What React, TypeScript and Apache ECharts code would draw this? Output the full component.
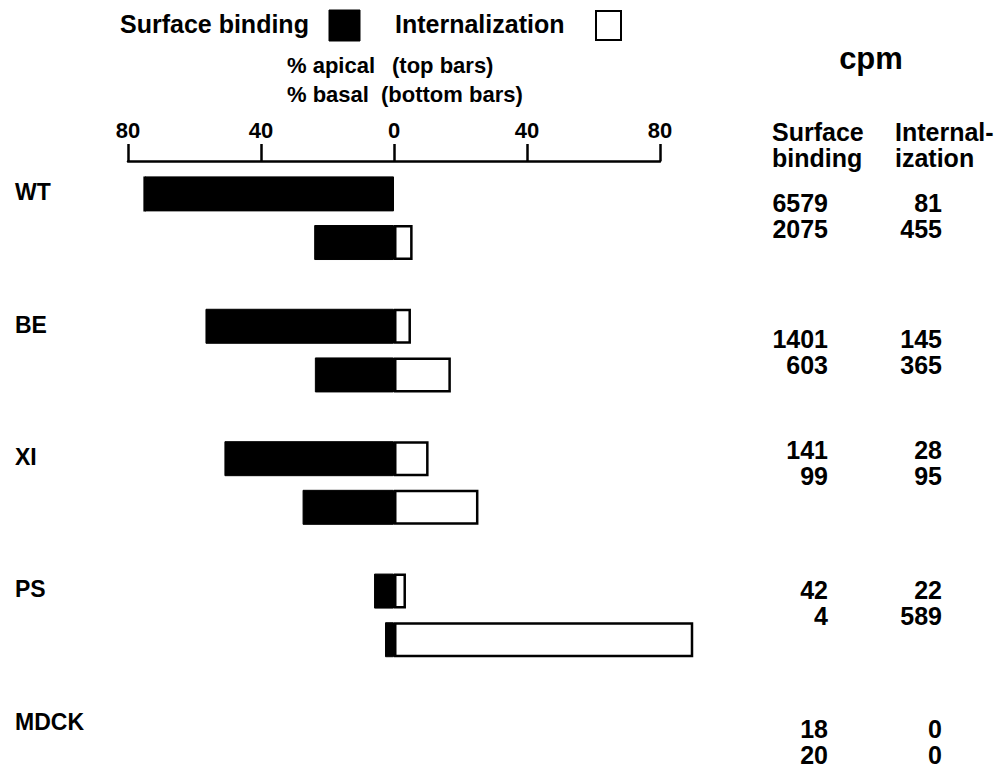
import React, { useEffect, useRef } from 'react';
import * as echarts from 'echarts';

// ---------- data ----------
const categories = ['WT', 'BE', 'XI', 'PS', 'MDCK'];
// % values (surface binding drawn leftwards, internalization rightwards)
const apicalSurfacePct: (number | null)[] = [75, 56.7, 51, 6.0, null];
const apicalInternalPct: (number | null)[] = [0, 5.1, 10.4, 3.6, null];
const basalSurfacePct: (number | null)[] = [24, 23.8, 27.5, 2.7, null];
const basalInternalPct: (number | null)[] = [5.6, 17.1, 25.4, 90, null];
// cpm table
const cpmSurfaceApical = [6579, 1401, 141, 42, 18];
const cpmSurfaceBasal = [2075, 603, 99, 4, 20];
const cpmInternalApical = [81, 145, 28, 22, 0];
const cpmInternalBasal = [455, 365, 95, 589, 0];
// texts
const legendLabels = ['Surface binding', 'Internalization'];
const subtitleLeft = ['% apical', '% basal'];
const subtitleRight = ['(top bars)', '(bottom bars)'];
const cpmTitle = 'cpm';
const cpmHeaders = ['Surface\nbinding', 'Internal-\nization'];

// ---------- layout ----------
const FONT = '"Liberation Sans", Arial, Helvetica, sans-serif';
const CPM_ROW_CENTER_Y = [215.5, 352, 463, 603, 742];

const neg = (v: number | null) => (v == null ? null : -v);

function txt(x: number, y: number, text: string, size: number, align = 'left', extra: any = {}) {
  return {
    type: 'text',
    x,
    y,
    style: {
      text,
      fill: '#000',
      fontSize: size,
      fontWeight: 'bold',
      fontFamily: FONT,
      align,
      verticalAlign: 'middle',
      ...extra,
    },
  };
}

export default function App() {
  const ref = useRef<HTMLDivElement>(null);
  useEffect(() => {
    if (!ref.current) return;
    const chart = echarts.init(ref.current, null, { renderer: 'svg' });

    const graphic: any[] = [
      txt(120, 24, legendLabels[0], 25),
      {
        type: 'rect',
        shape: { x: 329, y: 10, width: 31, height: 31 },
        style: { fill: '#000', stroke: '#000', lineWidth: 1 },
      },
      txt(395, 24, legendLabels[1], 25),
      {
        type: 'rect',
        shape: { x: 596, y: 11, width: 25, height: 29 },
        style: { fill: '#fff', stroke: '#000', lineWidth: 2 },
      },
      txt(287, 65, subtitleLeft[0], 22),
      txt(392, 65, subtitleRight[0], 22),
      txt(287, 94, subtitleLeft[1], 22),
      txt(381, 94, subtitleRight[1], 22),
      txt(871, 58, cpmTitle, 31, 'center'),
      txt(772, 145, cpmHeaders[0], 25, 'left', { lineHeight: 26 }),
      txt(895, 145, cpmHeaders[1], 25, 'left', { lineHeight: 26 }),
    ];
    categories.forEach((_, i) => {
      graphic.push(
        txt(828, CPM_ROW_CENTER_Y[i], `${cpmSurfaceApical[i]}\n${cpmSurfaceBasal[i]}`, 25, 'right', { lineHeight: 26 })
      );
      graphic.push(
        txt(942, CPM_ROW_CENTER_Y[i], `${cpmInternalApical[i]}\n${cpmInternalBasal[i]}`, 25, 'right', { lineHeight: 26 })
      );
    });

    const blackStyle = { color: '#000', borderColor: '#000', borderWidth: 1 };
    const whiteStyle = { color: '#fff', borderColor: '#000', borderWidth: 2.5 };
    const barCommon = { type: 'bar', barWidth: 35, barGap: '39%', clip: false };

    chart.setOption({
      animation: false,
      backgroundColor: '#fff',
      textStyle: { fontFamily: FONT, fontWeight: 'bold', color: '#000' },
      grid: { left: 128, width: 532, top: 152, height: 662 },
      xAxis: {
        type: 'value',
        position: 'top',
        min: -80,
        max: 80,
        interval: 40,
        offset: -9,
        axisLine: { show: true, lineStyle: { color: '#000', width: 2.5 } },
        axisTick: { show: true, length: 17, lineStyle: { color: '#000', width: 2.5 } },
        axisLabel: {
          formatter: (v: number) => String(Math.abs(v)),
          color: '#000',
          fontSize: 22,
          fontWeight: 'bold',
          fontFamily: FONT,
          margin: 20,
        },
        splitLine: { show: false },
      },
      yAxis: {
        type: 'category',
        inverse: true,
        data: categories,
        axisLine: { show: false },
        axisTick: { show: false },
        splitLine: { show: false },
        axisLabel: {
          align: 'left',
          verticalAlign: 'bottom',
          lineHeight: 52,
          margin: 113,
          fontSize: 23,
          fontWeight: 'bold',
          fontFamily: FONT,
          color: '#000',
        },
      },
      series: [
        { ...barCommon, name: legendLabels[0], stack: 'apical', data: apicalSurfacePct.map(neg), itemStyle: blackStyle },
        { ...barCommon, name: legendLabels[1], stack: 'apical', data: apicalInternalPct, itemStyle: whiteStyle },
        { ...barCommon, name: legendLabels[0], stack: 'basal', data: basalSurfacePct.map(neg), itemStyle: blackStyle },
        { ...barCommon, name: legendLabels[1], stack: 'basal', data: basalInternalPct, itemStyle: whiteStyle },
      ],
      graphic,
    });
    return () => chart.dispose();
  }, []);

  return (
    <div
      ref={ref}
      style={{ position: 'fixed', left: 0, top: 0, width: 995, height: 830, background: '#fff' }}
    />
  );
}
